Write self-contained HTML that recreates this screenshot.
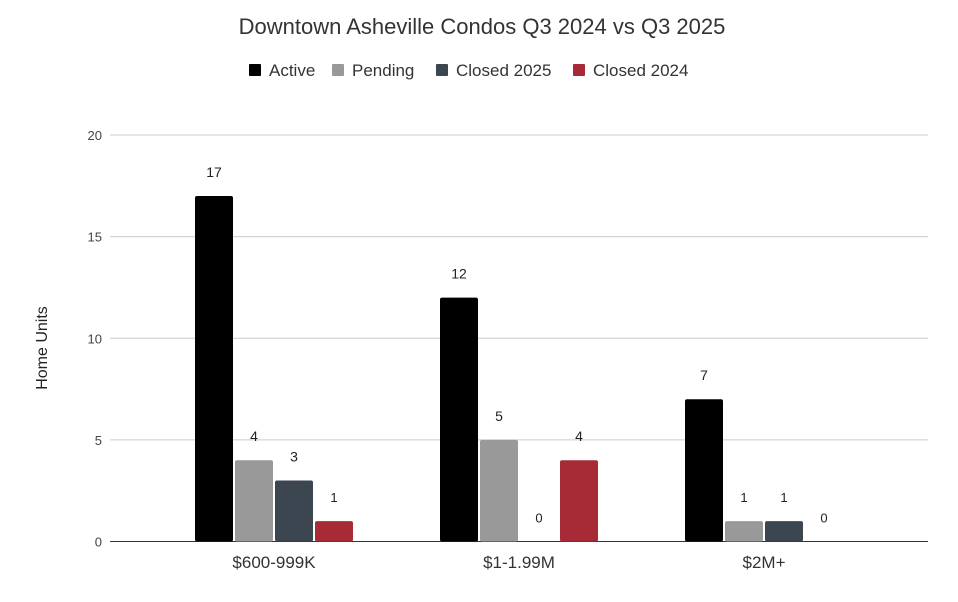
<!DOCTYPE html>
<html><head><meta charset="utf-8"><style>
html,body{margin:0;padding:0;background:#fff;}
svg{display:block;font-family:"Liberation Sans",Arial,sans-serif;}
</style></head><body>
<svg id="chart" width="958" height="602" viewBox="0 0 958 602">
<text x="482" y="34" text-anchor="middle" font-size="22" fill="#333">Downtown Asheville Condos Q3 2024 vs Q3 2025</text>
<g id="legend"></g>
<text transform="translate(47,348) rotate(-90)" text-anchor="middle" font-size="16" fill="#222">Home Units</text>
<g id="grid"></g><g id="bars"></g>
</svg>
<script>
const categories = ["$600-999K", "$1-1.99M", "$2M+"];
const seriesNames = ["Active", "Pending", "Closed 2025", "Closed 2024"];
const active = [17, 12, 7];
const pending = [4, 5, 1];
const closed2025 = [3, 0, 1];
const closed2024 = [1, 4, 0];
const yTicks = [0, 5, 10, 15, 20];

const colors = ["#000000", "#999999", "#3c4650", "#a62b37"];
const legendX = [249, 332, 436, 573];
const series = [active, pending, closed2025, closed2024];
const NS = "http://www.w3.org/2000/svg";
const plotL = 110, plotR = 928, y0 = 541.5, yTop = 135, yMax = 20;
const yScale = v => y0 - (v / yMax) * (y0 - yTop);
const bandStart = 151.5, bandW = 245;
const xCenter = i => bandStart + bandW * (i + 0.5);
const barW = 38, barPitch = 40;

function mk(tag, attrs, parent) {
  const e = document.createElementNS(NS, tag);
  for (const k in attrs) e.setAttribute(k, attrs[k]);
  parent.appendChild(e);
  return e;
}

const grid = document.getElementById("grid");
yTicks.forEach(t => {
  const y = yScale(t);
  const l = mk("line", {x1: plotL, x2: plotR, y1: y, y2: y, stroke: t === 0 ? "#333" : "#ccc", "stroke-width": 1}, grid);
  
  
  const tx = mk("text", {x: 102, y: y + 5, "text-anchor": "end", "font-size": 13, fill: "#444"}, grid);
  tx.textContent = t;
  
  
});

const bars = document.getElementById("bars");
categories.forEach((c, i) => {
  const cx = xCenter(i);
  const lab = mk("text", {x: cx, y: 568, "text-anchor": "middle", "font-size": 17, fill: "#333"}, bars);
  lab.textContent = c;
  
  
  series.forEach((s, j) => {
    const v = s[i];
    const x = cx - 2 * barPitch + j * barPitch + 1;
    const y = yScale(v);
    if (v > 0) {
      const r = mk("rect", {x: x, y: y, width: barW, height: y0 - y, fill: colors[j], rx: 2}, bars);
      
      
    }
    const t = mk("text", {x: x + barW / 2, y: y - 19, "text-anchor": "middle", "font-size": v < 2 ? 13 : 14, fill: "#222"}, bars);
    t.textContent = v;
    
    
  });
});

const legend = document.getElementById("legend");
seriesNames.forEach((n, j) => {
  const lx = legendX[j];
  const r = mk("rect", {x: lx, y: 64, width: 12, height: 12, fill: colors[j], rx: 1}, legend);
  
  
  const t = mk("text", {x: lx + 20, y: 76, "font-size": 17, fill: "#333"}, legend);
  t.textContent = n;
  
  
});
</script>
</body></html>
